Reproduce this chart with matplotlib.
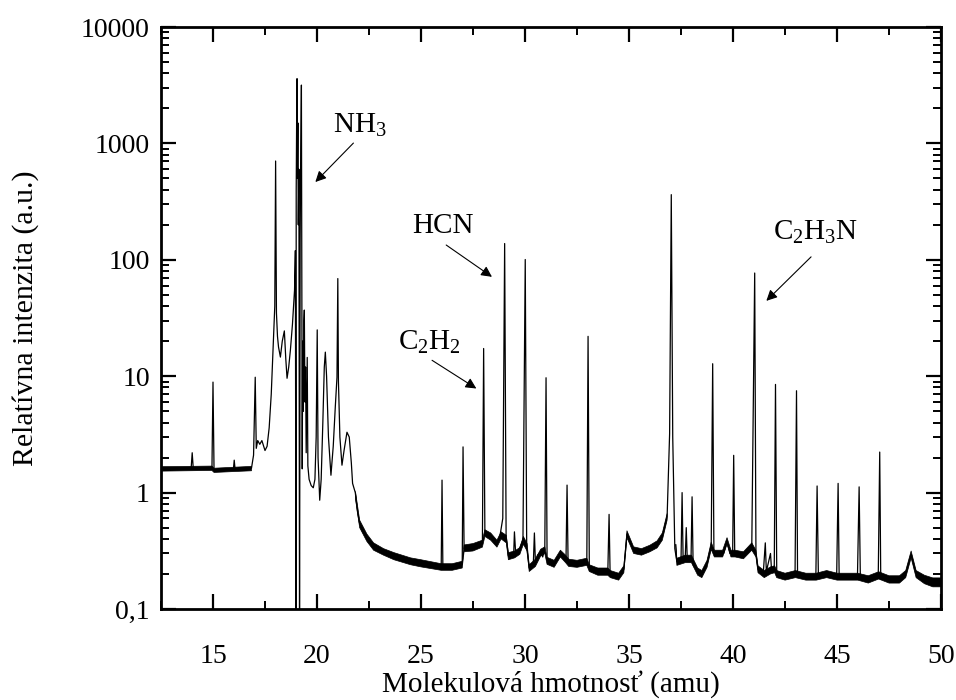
import numpy as np
import matplotlib
matplotlib.use("Agg")
import matplotlib.pyplot as plt
from matplotlib.ticker import LogLocator, NullFormatter, MultipleLocator

plt.rcParams['font.family'] = ['Liberation Serif', 'DejaVu Serif']
plt.rcParams['mathtext.fontset'] = 'custom'
plt.rcParams['mathtext.rm'] = 'Liberation Serif'
plt.rcParams['mathtext.it'] = 'Liberation Serif:italic'

# Mass spectrum trace: (mass, relative intensity)
mass = [
    12.55, 13.0, 13.5, 13.95, 14.0, 14.05, 14.5, 14.95, 15.0, 15.05, 15.5, 15.98,
    16.02, 16.06, 16.5, 16.85, 16.95, 17.03, 17.08, 17.15, 17.25, 17.35, 17.5,
    17.6, 17.7, 17.8, 17.9, 17.97, 18.01, 18.05, 18.1, 18.15, 18.24, 18.33,
    18.43, 18.5, 18.56, 18.64, 18.72, 18.82, 18.92, 18.96, 18.99, 19.0, 19.02,
    19.04, 19.06, 19.08, 19.1, 19.13, 19.16, 19.19, 19.22, 19.25, 19.27, 19.29,
    19.31, 19.34, 19.37, 19.39, 19.42, 19.45, 19.48, 19.53, 19.56, 19.62, 19.72,
    19.82, 19.9, 19.96, 20.01, 20.05, 20.13, 20.2, 20.28, 20.35, 20.4, 20.46,
    20.55, 20.67, 20.78, 20.88, 20.96, 21.0, 21.03, 21.1, 21.2, 21.3, 21.44,
    21.55, 21.65, 21.71, 21.84, 21.95, 22.05, 22.2, 22.4, 22.72, 23.0, 23.68,
    24.3, 24.97, 25.5, 25.97, 26.01, 26.05, 26.5, 26.98, 27.02, 27.07, 27.5,
    27.95, 28.01, 28.07, 28.2, 28.35, 28.5, 28.65, 28.8, 28.93, 29.02, 29.09,
    29.2, 29.35, 29.45, 29.49, 29.55, 29.7, 29.9, 30.01, 30.08, 30.2, 30.4,
    30.45, 30.5, 30.6, 30.74, 30.85, 30.95, 31.01, 31.06, 31.3, 31.5, 31.7,
    31.85, 31.97, 32.02, 32.07, 32.5, 32.97, 33.03, 33.09, 33.5, 33.98, 34.04,
    34.09, 34.5, 34.75, 34.9, 35.05, 35.22, 35.6, 36.0, 36.35, 36.6, 36.83,
    36.95, 37.03, 37.1, 37.2, 37.3, 37.5, 37.55, 37.6, 37.7, 37.75, 37.8,
    37.98, 38.03, 38.08, 38.3, 38.5, 38.75, 38.95, 39.02, 39.08, 39.3, 39.55,
    39.71, 39.85, 39.98, 40.03, 40.08, 40.5, 40.9, 41.04, 41.1, 41.2, 41.45,
    41.55, 41.6, 41.8, 41.85, 41.98, 42.04, 42.1, 42.5, 42.98, 43.05, 43.1,
    43.5, 43.98, 44.04, 44.1, 44.5, 44.98, 45.05, 45.1, 45.5, 45.98, 46.06,
    46.12, 46.5, 46.98, 47.05, 47.1, 47.5, 48.0, 48.3, 48.56, 48.8, 49.2,
    49.6, 50.0,
]
intensity = [
    1.6, 1.6, 1.62, 1.62, 2.2, 1.62, 1.63, 1.63, 8.9, 1.55, 1.55, 1.58,
    1.9, 1.6, 1.62, 1.62, 2.1, 9.8, 2.4, 2.8, 2.6, 2.8, 2.3,
    2.5, 3.6, 7.0, 20.0, 40.0, 706.0, 35.0, 22.0, 17.8, 14.6, 20.0,
    24.5, 14.0, 9.6, 12.0, 16.7, 28.0, 55.0, 120.0, 0.05, 400.0, 1500.0,
    3600.0, 500.0, 1500.0, 200.0, 600.0, 0.05, 150.0, 900.0, 3170.0, 80.0, 1.6,
    20.0, 5.0, 30.0, 37.0, 6.0, 12.0, 2.2, 14.5, 1.7, 1.3, 1.15,
    1.1, 1.3, 3.0, 25.0, 2.0, 0.86, 1.3, 4.0, 12.0, 16.1, 10.0,
    3.0, 1.41, 2.5, 5.5, 9.8, 69.0, 9.0, 3.0, 1.72, 2.3, 3.3,
    3.0, 1.8, 1.2, 1.0, 0.68, 0.54, 0.46, 0.41, 0.345, 0.32, 0.285,
    0.265, 0.25, 0.235, 0.23, 1.28, 0.23, 0.23, 0.24, 2.47, 0.33, 0.34,
    0.365, 17.3, 0.45, 0.45, 0.42, 0.38, 0.365, 0.43, 0.6, 138.0, 0.42,
    0.285, 0.3, 0.28, 0.46, 0.3, 0.32, 0.39, 100.6, 0.34, 0.225, 0.25,
    0.45, 0.25, 0.29, 0.31, 0.28, 0.33, 9.7, 0.26, 0.245, 0.26, 0.3,
    0.27, 0.27, 1.16, 0.25, 0.245, 0.255, 22.0, 0.225, 0.21, 0.21, 0.65,
    0.2, 0.19, 0.22, 0.44, 0.38, 0.32, 0.31, 0.33, 0.36, 0.42, 0.62,
    3.2, 363.0, 3.0, 0.33, 0.255, 0.27, 1.0, 0.26, 0.27, 0.5, 0.26,
    0.27, 0.92, 0.24, 0.21, 0.2, 0.245, 0.35, 12.8, 0.3, 0.3, 0.3,
    0.385, 0.3, 0.3, 2.09, 0.3, 0.29, 0.345, 77.0, 0.3, 0.22, 0.2,
    0.37, 0.21, 0.3, 0.215, 0.22, 8.5, 0.2, 0.19, 0.2, 7.5, 0.2,
    0.19, 0.19, 1.14, 0.2, 0.2, 0.19, 1.2, 0.19, 0.19, 0.19, 1.12,
    0.18, 0.18, 0.195, 2.23, 0.18, 0.18, 0.18, 0.2, 0.295, 0.2, 0.18,
    0.17, 0.17,
]

# Envelope of the detector noise on the baseline (NaN separates segments)
floor_mass = [
    12.55, 14.95, 15.05, 16.85, np.nan,
    21.85, 22.05, 22.4, 22.72, 23.2, 23.7, 24.5, 25.0, 25.97, 26.5, 26.98,
    27.07, 27.5, 27.95, 28.07, 28.35, 28.65, 28.85, 29.1, 29.2, 29.5, 29.75,
    29.92, 30.1, 30.2, 30.5, 30.75, 30.95, 31.06, 31.4, 31.7, 31.95, 32.1,
    32.5, 32.97, 33.09, 33.5, 33.98, 34.1, 34.5, 34.75, 34.9, 35.05, 35.22,
    35.6, 36.0, 36.35, 36.6, 36.83, np.nan,
    37.25, 37.3, 37.7, 38.0, 38.3, 38.5, 38.75, 38.95, 39.1, 39.5, 39.71,
    39.9, 40.1, 40.5, 40.9, 41.1, 41.2, 41.5, 41.8, 42.0, 42.1, 42.5, 43.0,
    43.5, 44.0, 44.5, 45.0, 45.5, 46.0, 46.5, 47.0, 47.5, 48.0, 48.3, 48.56,
    48.8, 49.2, 49.6, 50.0,
]
floor_lo = [
    1.53, 1.55, 1.49, 1.54, np.nan,
    0.88, 0.50, 0.38, 0.32, 0.29, 0.265, 0.24, 0.23, 0.215, 0.215, 0.225,
    0.31, 0.315, 0.34, 0.42, 0.39, 0.34, 0.40, 0.37, 0.265, 0.275, 0.295,
    0.36, 0.315, 0.21, 0.232, 0.285, 0.30, 0.242, 0.228, 0.28, 0.25, 0.232,
    0.228, 0.237, 0.21, 0.195, 0.195, 0.186, 0.177, 0.205, 0.41, 0.355, 0.30,
    0.29, 0.31, 0.335, 0.39, 0.58, np.nan,
    0.30, 0.237, 0.25, 0.25, 0.195, 0.186, 0.228, 0.325, 0.28, 0.28, 0.36,
    0.28, 0.28, 0.27, 0.32, 0.28, 0.205, 0.186, 0.20, 0.205, 0.186, 0.177, 0.186,
    0.177, 0.177, 0.186, 0.177, 0.177, 0.177, 0.167, 0.181, 0.167, 0.167, 0.186, 0.275,
    0.186, 0.165, 0.155, 0.155,
]
floor_hi = [
    1.67, 1.69, 1.62, 1.68, np.nan,
    1.02, 0.58, 0.44, 0.37, 0.33, 0.305, 0.275, 0.265, 0.245, 0.245, 0.257,
    0.355, 0.365, 0.39, 0.48, 0.45, 0.39, 0.46, 0.43, 0.305, 0.315, 0.337,
    0.42, 0.365, 0.24, 0.268, 0.326, 0.342, 0.278, 0.262, 0.32, 0.29, 0.268,
    0.262, 0.273, 0.24, 0.225, 0.225, 0.214, 0.203, 0.235, 0.47, 0.405, 0.342,
    0.33, 0.353, 0.385, 0.45, 0.66, np.nan,
    0.36, 0.273, 0.29, 0.29, 0.225, 0.214, 0.262, 0.375, 0.32, 0.32, 0.41,
    0.32, 0.32, 0.31, 0.37, 0.32, 0.235, 0.214, 0.23, 0.235, 0.214, 0.203, 0.214,
    0.203, 0.203, 0.214, 0.203, 0.203, 0.203, 0.193, 0.209, 0.193, 0.193, 0.214, 0.315,
    0.214, 0.195, 0.185, 0.185,
]

x_ticks = [15, 20, 25, 30, 35, 40, 45, 50]
y_ticks = [0.1, 1, 10, 100, 1000, 10000]
y_tick_labels = ['0,1', '1', '10', '100', '1000', '10000']

# Species labels: (text, text anchor, arrow tail, arrow head)
species = [
    ('NH$_\\mathregular{3}$', (20.79, 1228), (21.75, 1007), (19.92, 466)),
    ('HCN', (24.57, 170), (26.21, 134), (28.41, 71.4)),
    ('C$_\\mathregular{2}$H$_\\mathregular{2}$', (23.91, 16.7), (25.53, 13.7), (27.66, 7.84)),
    ('C$_\\mathregular{2}$H$_\\mathregular{3}$N', (41.93, 147.6), (43.75, 106), (41.6, 44.4)),
]

fig = plt.figure(figsize=(9.56, 7.0), dpi=100)
ax = fig.add_axes([0.1684, 0.130, 0.816, 0.8314])

ax.fill_between(floor_mass, floor_lo, floor_hi, color='black', lw=0.5,
                edgecolor='black')
ax.plot(mass, intensity, color='black', lw=0.9)

ax.set_yscale('log')
ax.set_xlim(12.5, 50)
ax.set_ylim(0.1, 10000)

ax.set_xticks(x_ticks)
ax.xaxis.set_minor_locator(MultipleLocator(2.5))
ax.set_yticks(y_ticks, labels=y_tick_labels)
ax.yaxis.set_minor_locator(LogLocator(base=10, subs=np.arange(2, 10)))
ax.yaxis.set_minor_formatter(NullFormatter())

ax.tick_params(which='both', direction='in', top=True, right=True,
               labelsize=20)
ax.tick_params(which='major', length=11, width=1.6)
ax.tick_params(which='minor', length=6, width=1.4)
ax.tick_params(axis='x', pad=25)
ax.tick_params(axis='y', pad=8)
for sp in ax.spines.values():
    sp.set_linewidth(2.0)

ax.set_xlabel('Molekulová hmotnosť (amu)', fontsize=21, labelpad=1)
ax.set_ylabel('Relatívna intenzita (a.u.)', fontsize=21.5, labelpad=30)

for label, txt_pos, tail, head in species:
    ax.text(txt_pos[0], txt_pos[1], label, fontsize=21, ha='left',
            va='baseline')
    ax.annotate('', xy=head, xytext=tail,
                arrowprops=dict(arrowstyle='-|>', color='black', lw=0.8,
                                mutation_scale=16, shrinkA=0, shrinkB=0))

fig.savefig('out.png', dpi=100)
